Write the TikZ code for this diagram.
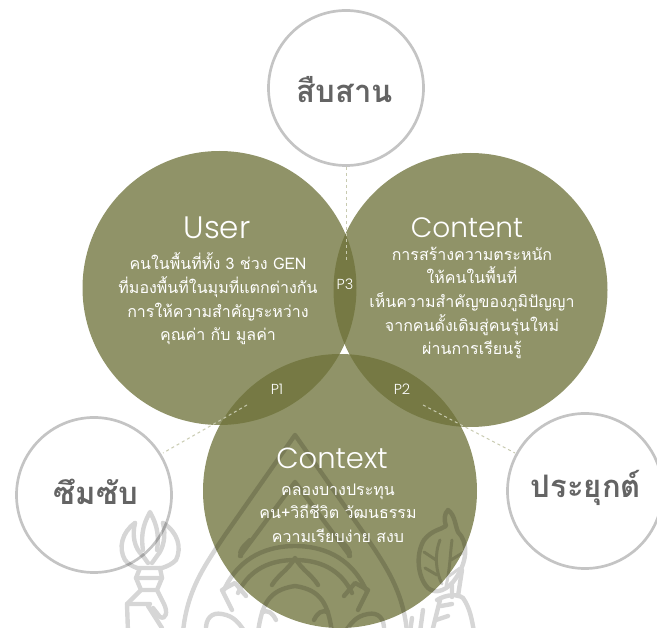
\documentclass[tikz,border=0pt]{standalone}
\usepackage{fontspec}
\setmainfont{Liberation Sans}
\newfontfamily\thaifont[Script=Thai]{Loma}
\newfontfamily\latfont[UprightFont=* Light]{Poppins}
\definecolor{olive}{RGB}{109,113,56}
\definecolor{ringgray}{RGB}{196,196,196}
\definecolor{labelgray}{RGB}{100,100,100}
\definecolor{dashtan}{RGB}{200,202,176}
\tikzset{
  bigdisc/.style={circle,inner sep=0pt,fill=olive,fill opacity=.76,minimum size=#1},
  ring/.style={circle,inner sep=0pt,draw=ringgray,line width=2.7pt,minimum size=155pt},
  ringtext/.style={font=\thaifont\bfseries\fontsize{31}{34}\selectfont,text=labelgray},
  title/.style={font=\latfont\fontsize{#1}{30}\selectfont,text=white},
  body/.style={font=\thaifont\fontsize{16}{23.6}\selectfont,text=white,align=center},
  plabel/.style={font=\latfont\fontsize{14.5}{16}\selectfont,text=white},
  dashlink/.style={draw=dashtan,line width=1pt,dash pattern=on 3pt off 3pt},
  wm/.style={draw=black,line width=4.4pt,line cap=round,line join=round},
  wmthin/.style={draw=black,line width=3pt,line cap=round,line join=round}
}
\begin{document}
\begin{tikzpicture}[x=1pt,y=-1pt]
\useasboundingbox (0,0) rectangle (657,628);
\clip (0,0) rectangle (657,628);
% rings
\node[ring] (top) at (346,88) {};
\node[ring] (left) at (94,495) {};
\node[ring] (right) at (585,491) {};
% big discs
\node[bigdisc=274pt] (user) at (219.5,288) {};
\node[bigdisc=274pt] (content) at (470.5,290) {};
\node[bigdisc=274pt] (context) at (340,491) {};
% connectors
\coordinate (topend) at (346,262);
\coordinate (leftend) at (247,405);
\coordinate (rightend) at (423,405);
\coordinate (leftfree) at (163,453);
\coordinate (rightfree) at (515,453);
\draw[dashlink] (top.south) -- (topend);
\draw[dashlink] (leftend) -- (leftfree);
\draw[dashlink] (rightend) -- (rightfree);
% watermark emblem
\begin{scope}[transparency group,opacity=.16]
  % outer teardrop
  \draw[wm] (183,632) .. controls (187,590) and (205,565) .. (225,535) -- (295,435) -- (365,535) .. controls (385,565) and (403,590) .. (407,632);
  % inner triangle
  \draw[wm] (240,556) -- (295,482) -- (350,556);
  % arches
  \draw[wm] (224,590) .. controls (240,555) and (270,546) .. (295,546) .. controls (320,546) and (350,555) .. (366,590);
  \draw[wm] (238,593) .. controls (250,568) and (272,560) .. (295,560) .. controls (318,560) and (340,568) .. (352,593);
  \draw[wm] (241,556) .. controls (238,551) and (244,546) .. (250,540);
  \draw[wm] (349,556) .. controls (352,551) and (346,546) .. (340,540);
  % lotus
  \draw[wm] (272,585) .. controls (278,575) and (288,570) .. (295,558) .. controls (302,570) and (312,575) .. (318,585);
  \draw[wm] (258,632) .. controls (262,605) and (268,590) .. (295,586) .. controls (322,590) and (328,605) .. (332,632);
  % left box and scrolls
  \draw[wm] (246,596) -- (235,583) -- (222,590) -- (232,610);
  \draw[wm] (344,596) -- (355,583) -- (368,590) -- (358,610);
  \draw[wm] (206,632) .. controls (205,618) and (212,612) .. (222,614) .. controls (235,616) and (240,625) .. (245,632);
  \draw[wm] (384,632) .. controls (385,618) and (378,612) .. (368,614) .. controls (355,616) and (350,625) .. (345,632);
  \draw[wm] (262,612) .. controls (268,610) and (272,612) .. (276,620);
  \draw[wm] (328,612) .. controls (322,610) and (318,612) .. (314,620);
  % trident
  \draw[wm] (143,550) .. controls (140,530) and (146,520) .. (150,512) .. controls (154,520) and (160,530) .. (157,550);
  \draw[wm] (135,523) .. controls (122,532) and (118,548) .. (125,560) .. controls (128,564) and (132,566) .. (137,568);
  \draw[wm] (135,523) .. controls (132,535) and (134,548) .. (143,556) -- (148,563);
  \draw[wm] (163,523) .. controls (178,532) and (182,548) .. (176,560) .. controls (172,564) and (168,566) .. (162,568);
  \draw[wm] (163,523) .. controls (166,535) and (164,548) .. (157,556) -- (152,563);
  \draw[wm] (137,568) -- (161,568) (140,568) -- (136,578) -- (141,590) -- (127,604) -- (128,632);
  \draw[wm] (160,568) -- (162,578) -- (157,590) -- (164,604) .. controls (168,612) and (166,620) .. (160,617) -- (153,608);
  \draw[wm] (141,590) -- (157,590) (136,578) -- (162,578);
  \draw[wm] (127,604) -- (150,604);
  \draw[wm] (148,606) -- (162,628);
  % sheaf
  \draw[wm] (448,510) .. controls (455,515) and (455,525) .. (458,532) .. controls (468,542) and (468,560) .. (456,578) .. controls (448,590) and (436,595) .. (428,588) .. controls (418,578) and (415,555) .. (424,540) .. controls (432,530) and (440,530) .. (446,526) .. controls (444,520) and (444,514) .. (448,510);
  \draw[wmthin] (440,540) .. controls (434,555) and (436,572) .. (442,584);
  \draw[wmthin] (452,540) .. controls (450,555) and (450,570) .. (446,586);
  \draw[wmthin] (424,552) -- (436,560) (425,568) -- (437,575) (464,552) -- (451,560) (460,568) -- (449,576);
  \draw[wm] (462,570) -- (458,596) (452,585) -- (452,597);
  \draw[wm] (437,600) .. controls (447,594) and (458,594) .. (463,598) .. controls (470,608) and (472,620) .. (474,632);
  \draw[wm] (440,600) -- (432,632);
  \draw[wm] (441,606) -- (452,604) (436,620) -- (448,616);
  \draw[wm] (423,610) -- (420,632) (412,618) -- (410,632);
\end{scope}
% texts
\node[ringtext] (t1) at (345,90) {\thaifont สืบสาน};
\node[ringtext] (t2) at (96,492) {\thaifont ซึมซับ};
\node[ringtext] (t3) at (586,488) {\thaifont ประยุกต์};
\node[title=31] (t4) at (217,228) {User};
\node[title=28] (t5) at (467,228) {Content};
\node[title=29] (t6) at (332,458) {Context};
\node[body] (b1) at (218,299) {คนในพื้นที่ทั้ง 3 ช่วง GEN\\ที่มองพื้นที่ในมุมที่แตกต่างกัน\\การให้ความสำคัญระหว่าง\\คุณค่า กับ มูลค่า};
\node[body] (b2) at (472,303) {การสร้างความตระหนัก\\ให้คนในพื้นที่\\เห็นความสำคัญของภูมิปัญญา\\จากคนดั้งเดิมสู่คนรุ่นใหม่\\ผ่านการเรียนรู้};
\node[body] (b3) at (338,513) {คลองบางประทุน\\คน+วิถีชีวิต วัฒนธรรม\\ความเรียบง่าย สงบ};
\node[plabel] (p3) at (345,284) {P3};
\node[plabel] (p1) at (277,389) {P1};
\node[plabel] (p2) at (402,389) {P2};
\end{tikzpicture}
\end{document}
